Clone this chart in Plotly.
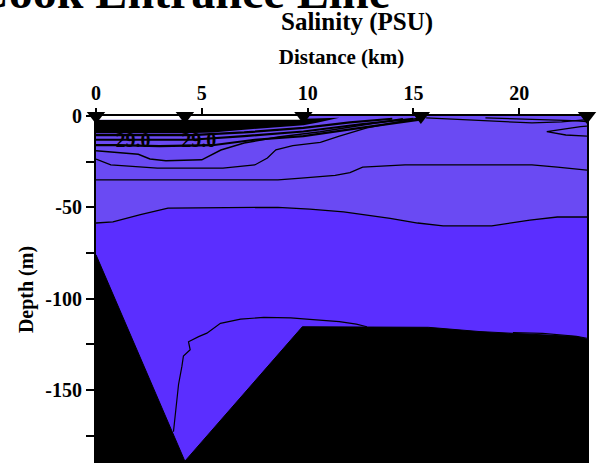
import plotly.graph_objects as go

# ---------------- data (distance km, depth m) ----------------
station_km = [0, 4.2, 9.8, 15.35, 23.2]
station_depth = [0, 0, 0, 0, 0]

bathy_km = [0, 4.2, 9.75, 15.7, 18.1, 20.5, 22.7, 23.2]
bathy_depth = [-76, -189, -115.4, -115.7, -118, -119.5, -120.8, -122.2]

# contour lines
iso_mid_km = [0, 0.8, 2.1, 3.4, 8.6, 10.1, 11.7, 13.9, 15.2, 16.4, 18.7, 20.5, 21.8, 23.2]
iso_mid_depth = [-58.6, -58, -54, -50.4, -50, -51, -52.5, -56, -58.6, -60.2, -60.2, -57, -55.3, -55.3]

iso_upper_km = [0, 5, 8.6, 9.7, 11.3, 12.0, 12.6, 14.6, 20.6, 21.8, 23.2]
iso_upper_depth = [-35, -35, -35, -34, -32.5, -31, -28, -26.8, -26.8, -28, -29.6]

iso_bowl_km = [0, 0.7, 2.9, 6.0, 7.5, 8.1, 8.5, 9.3, 10.6, 11.5, 12.8, 14.85, 15.4]
iso_bowl_depth = [-23.6, -26.8, -28.5, -28.5, -26.8, -23, -18.5, -16.2, -14.5, -11, -6.5, -2, -0.8]

iso_s4_km = [0, 2.0, 2.55, 3.3, 5.0, 5.9, 7.0, 8.6, 10.6, 12.5, 14.5]
iso_s4_depth = [-19, -21, -23.5, -24.5, -24, -18.6, -14.8, -11.5, -8.6, -5, -1.5]

iso_s3_km = [0, 1, 3, 5.5, 7.5, 9.8, 12.5, 15.3]
iso_s3_depth = [-16, -16, -16.5, -16, -13, -11, -6.5, -2]

iso_s2_km = [0, 4.5, 7, 9.8, 12.5, 15]
iso_s2_depth = [-13, -13, -11, -8.5, -4.5, -1.5]

iso_s1_km = [0, 4.5, 7, 9.8, 12, 14]
iso_s1_depth = [-10.5, -10.5, -9, -6.5, -3.5, -1.5]

iso_deep_km = [3.66, 3.9, 4.06, 4.13, 4.45, 4.37, 4.85, 5.24, 5.88, 6.83, 7.93, 9.2, 10.1, 11.5, 12.3, 12.8]
iso_deep_depth = [-172.9, -147, -137, -131.5, -128, -123.6, -120.8, -118.9, -113.5, -111.2, -110.3, -110.5, -111.4, -112.6, -114, -115.4]

iso_deep_r_km = [19.7, 21.1, 22.7, 23.2]
iso_deep_r_depth = [-118.6, -119, -120.6, -121.7]

iso_r1_km = [15.6, 17.0, 20.6, 22.0, 23.2]
iso_r1_depth = [-1, -1.8, -3.8, -3.2, -2.0]
iso_r2_km = [18.4, 20.0, 22.5, 23.2]
iso_r2_depth = [-1.0, -1.5, -2.5, -3.0]
iso_r3_km = [23.2, 22.9, 21.3, 22.2, 23.2]
iso_r3_depth = [-5.5, -5.8, -8.6, -10.4, -11]

# near-surface: no-data strip and dense contour mass
nodata_km = [0, 9.8, 9.8, 0]
nodata_depth = [0, 0, -2.0, -2.0]
dense_km = [0, 4.2, 7, 9.8, 11.5, 10.5, 9.8, 7, 5.5, 4.2, 0]
dense_depth = [-2.0, -2.0, -1.8, -1.5, -1.0, -3.5, -5.0, -7.5, -9.0, -9.5, -9.5]

label_km = [1.75, 4.85]
label_depth = [-14.5, -14]
label_text = ["29.0", "29.0"]

tick_km = [0, 5, 10, 15, 20]
tick_depth = [0, -50, -100, -150]
tick_depth_text = ["0", "-50", "-100", "-150"]
minor_depth = [-25, -75, -125, -175]

X_MAX = 23.2
Y_MIN = -190

UPPER = "#6A4AF3"
LOWER = "#5B2EFF"
SERIF = "Liberation Serif"

fig = go.Figure()

# darker deep water
fig.add_trace(go.Scatter(x=iso_mid_km + [X_MAX, 0], y=iso_mid_depth + [Y_MIN, Y_MIN],
                         fill="toself", fillcolor=LOWER, mode="none", hoverinfo="skip"))

contours = [
    (iso_mid_km, iso_mid_depth, 1.3), (iso_upper_km, iso_upper_depth, 1.3),
    (iso_bowl_km, iso_bowl_depth, 1.3), (iso_s4_km, iso_s4_depth, 1.5),
    (iso_s3_km, iso_s3_depth, 2.2), (iso_s2_km, iso_s2_depth, 2.2),
    (iso_s1_km, iso_s1_depth, 2.2), (iso_deep_km, iso_deep_depth, 1.2),
    (iso_deep_r_km, iso_deep_r_depth, 1.2),
    (iso_r1_km, iso_r1_depth, 1.3), (iso_r2_km, iso_r2_depth, 1.3), (iso_r3_km, iso_r3_depth, 1.3),
]
for cx, cy, w in contours:
    fig.add_trace(go.Scatter(x=cx, y=cy, mode="lines", line=dict(color="black", width=w),
                             hoverinfo="skip"))

# near-surface
fig.add_trace(go.Scatter(x=dense_km, y=dense_depth, fill="toself", fillcolor="black",
                         mode="none", hoverinfo="skip"))
fig.add_trace(go.Scatter(x=nodata_km, y=nodata_depth, fill="toself", fillcolor="white",
                         mode="none", hoverinfo="skip"))

# bathymetry
fig.add_trace(go.Scatter(x=bathy_km + [X_MAX, 0], y=bathy_depth + [Y_MIN, Y_MIN],
                         fill="toself", fillcolor="black", mode="lines",
                         line=dict(color="black", width=1), hoverinfo="skip"))

# contour labels
fig.add_trace(go.Scatter(x=label_km, y=label_depth, mode="text", text=label_text,
                         textfont=dict(family=SERIF, size=20, color="black", weight="bold"),
                         hoverinfo="skip"))

# stations
fig.add_trace(go.Scatter(x=station_km, y=station_depth, mode="markers", cliponaxis=False,
                         marker=dict(symbol="triangle-down", size=16, color="black"),
                         hoverinfo="skip"))

fig.update_layout(
    width=597, height=463,
    margin=dict(l=96, r=10, t=116, b=0),
    paper_bgcolor="white", plot_bgcolor=UPPER,
    showlegend=False,
    font=dict(family=SERIF, color="black"),
    xaxis=dict(side="top", range=[0, X_MAX], tickmode="array", tickvals=tick_km,
               ticks="outside", ticklen=6, tickwidth=2, tickcolor="black",
               showline=True, linecolor="black", linewidth=2, mirror=True,
               showgrid=False, zeroline=False, automargin=False,
               tickfont=dict(family=SERIF, size=20, weight="bold"),
               title=dict(text="Distance (km)", font=dict(family=SERIF, size=21, weight="bold"),
                          standoff=12)),
    yaxis=dict(range=[Y_MIN, 0], tickmode="array", tickvals=tick_depth, ticktext=tick_depth_text,
               ticks="outside", ticklen=8, tickwidth=2, tickcolor="black",
               minor=dict(tickmode="array", tickvals=minor_depth, ticks="outside", ticklen=8,
                          tickwidth=2, tickcolor="black", showgrid=False),
               showline=True, linecolor="black", linewidth=2, mirror=True,
               showgrid=False, zeroline=False, automargin=False,
               tickfont=dict(family=SERIF, size=20, weight="bold"),
               title=dict(text="Depth (m)", font=dict(family=SERIF, size=20, weight="bold"),
                          standoff=6)),
    annotations=[
        dict(text="Cook Entrance Line", xref="paper", yref="paper", x=(392 - 96) / 491,
             y=(463 - 20) / 347, xanchor="right", yanchor="bottom", showarrow=False,
             font=dict(family=SERIF, size=48, weight="bold", color="black")),
        dict(text="Salinity (PSU)", xref="paper", yref="paper", x=(357 - 96) / 491,
             y=(463 - 22) / 347, xanchor="center", yanchor="middle", showarrow=False,
             font=dict(family=SERIF, size=25, weight="bold", color="black")),
    ],
)

fig.write_html("out.html", config={"displayModeBar": False},
               post_script="document.body.style.margin='0';document.body.style.overflow='hidden';")
